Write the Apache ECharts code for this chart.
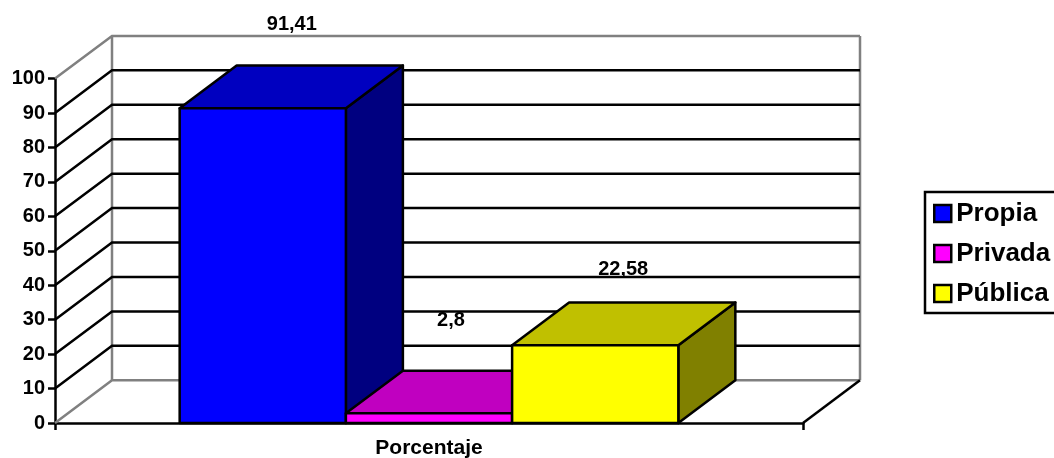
<!DOCTYPE html>
<html>
<head>
<meta charset="utf-8">
<title>Porcentaje</title>
<script src="https://cdn.jsdelivr.net/npm/echarts@6/dist/echarts.min.js"></script>
<style>
  html, body { margin: 0; padding: 0; background: #fff; }
  #main { width: 1054px; height: 458px; }
</style>
</head>
<body>
<div id="main"></div>
<script>
const categories = ['Porcentaje'];
const seriesNames = ['Propia', 'Privada', 'Pública'];
const propia = [91.41];
const privada = [2.8];
const publica = [22.58];
const yTicks = [0, 10, 20, 30, 40, 50, 60, 70, 80, 90, 100];

// look of the fake 3D
const DX = 57, DY = -42.7;
const LINE = 2.5;
const FONT = '"Liberation Sans", Arial, sans-serif';
const faces = [
  { front: '#0000ff', top: '#0000c0', side: '#000080' },
  { front: '#ff00ff', top: '#c000c0', side: '#800080' },
  { front: '#ffff00', top: '#c0c000', side: '#808000' }
];
// the labels were dragged by hand in the original, so offsets from the bar top centre
const labelOffsets = [[29, -84], [22, -93], [28, -76]];

const chart = echarts.init(document.getElementById('main'));

function line(points, color) {
  return {
    type: 'polyline',
    shape: { points: points },
    style: { fill: null, stroke: color, lineWidth: LINE }
  };
}

function renderWall(params, api) {
  const cs = params.coordSys;
  const x0 = cs.x, x1 = cs.x + cs.width;
  const tick = api.value(1);
  const y = api.coord([0, tick])[1];
  const edge = tick === 0 || tick === 100;
  const color = edge ? '#808080' : '#000';
  const children = [line([[x0, y], [x0 + DX, y + DY], [x1 + DX, y + DY]], color)];
  if (tick === 0) {
    const top = api.coord([0, 100])[1];
    children.push(line([[x0 + DX, y + DY], [x0 + DX, top + DY]], '#808080'));
    children.push(line([[x1 + DX, y + DY], [x1 + DX, top + DY]], '#808080'));
    children.push(line([[x1, y], [x1 + DX, y + DY]], '#000'));
  }
  return { type: 'group', children: children };
}

function renderBar(index) {
  return function (params, api) {
    const value = api.value(1);
    const band = api.size([1, 0])[0];
    const w = band / 4.5;
    const center = api.coord([api.value(0), 0])[0];
    const l = center + (index - 1.5) * w;
    const r = l + w;
    const b = api.coord([0, 0])[1];
    const t = api.coord([0, value])[1];
    const f = faces[index];
    const off = labelOffsets[index];
    const stroke = { stroke: '#000', lineWidth: LINE, lineJoin: 'round' };
    return {
      type: 'group',
      children: [
        { type: 'polygon', shape: { points: [[r, b], [r + DX, b + DY], [r + DX, t + DY], [r, t]] },
          style: Object.assign({ fill: f.side }, stroke) },
        { type: 'polygon', shape: { points: [[l, t], [l + DX, t + DY], [r + DX, t + DY], [r, t]] },
          style: Object.assign({ fill: f.top }, stroke) },
        { type: 'rect', shape: { x: l, y: t, width: w, height: b - t },
          style: Object.assign({ fill: f.front }, stroke) },
        { type: 'text', z2: 10,
          style: {
            x: l + w / 2 + off[0], y: t + off[1],
            text: String(value).replace('.', ','),
            fill: '#000', font: 'bold 20px ' + FONT, align: 'center', verticalAlign: 'middle'
          } }
      ]
    };
  };
}

function barSeries(index, values) {
  return {
    name: seriesNames[index],
    type: 'custom',
    renderItem: renderBar(index),
    encode: { x: 0, y: 1 },
    itemStyle: { color: faces[index].front },
    data: values.map((v, i) => [i, v]),
    silent: true
  };
}

chart.setOption({
  animation: false,
  backgroundColor: '#fff',
  textStyle: { fontFamily: FONT },
  grid: { left: 55, right: 251, top: 78.6, bottom: 35, outerBoundsMode: 'none' },
  legend: {
    data: seriesNames,
    orient: 'vertical',
    left: 925,
    top: 192,
    padding: [8.5, 14, 6.5, 8],
    itemWidth: 17,
    itemHeight: 17,
    itemGap: 14,
    icon: 'rect',
    borderColor: '#000',
    borderWidth: 2.5,
    itemStyle: { borderColor: '#000', borderWidth: 2.5 },
    textStyle: { fontFamily: FONT, fontWeight: 'bold', fontSize: 26, color: '#000' },
    selectedMode: false
  },
  xAxis: {
    type: 'category',
    data: categories,
    axisLine: { lineStyle: { color: '#000', width: LINE } },
    axisTick: { show: true, length: 7, lineStyle: { color: '#000', width: LINE } },
    axisLabel: { color: '#000', fontWeight: 'bold', fontSize: 21, fontFamily: FONT, margin: 15 }
  },
  yAxis: {
    type: 'value',
    min: 0,
    max: 100,
    interval: 10,
    splitLine: { show: false },
    axisLine: { show: true, onZero: false, lineStyle: { color: '#000', width: LINE } },
    axisTick: { show: true, length: 7, lineStyle: { color: '#000', width: LINE } },
    axisLabel: { color: '#000', fontWeight: 'bold', fontSize: 20, fontFamily: FONT, margin: 10, padding: [2, 0, 0, 0] }
  },
  series: [
    {
      type: 'custom',
      renderItem: renderWall,
      encode: { x: 0, y: 1 },
      data: yTicks.map(t => [0, t]),
      silent: true
    },
    barSeries(0, propia),
    barSeries(1, privada),
    barSeries(2, publica)
  ]
});
</script>
</body>
</html>
